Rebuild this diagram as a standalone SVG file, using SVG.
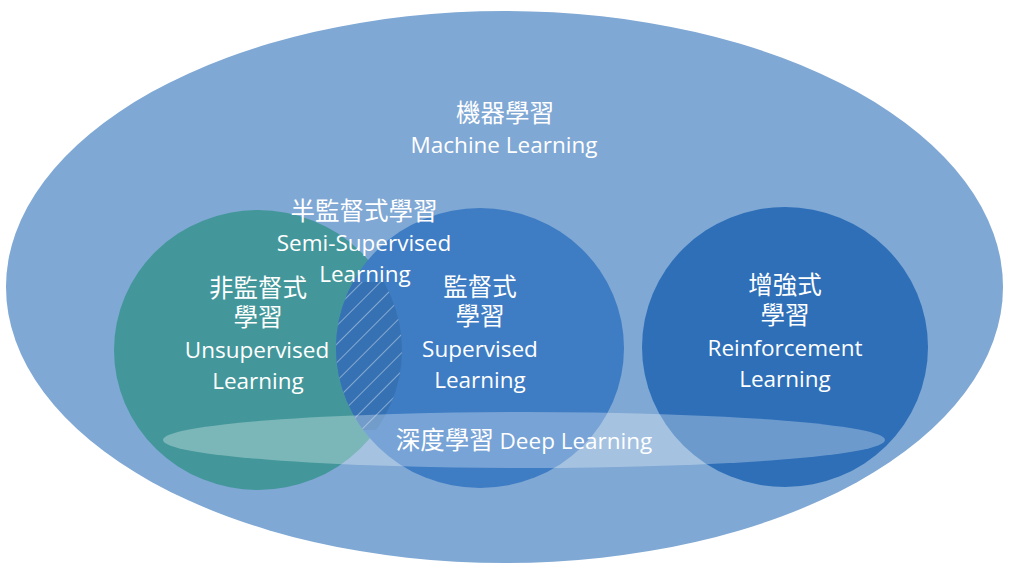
<svg xmlns="http://www.w3.org/2000/svg" width="1024" height="574" viewBox="0 0 1024 574">
  <style>
    .t { fill: #ffffff; font-family: "Open Sans", "Noto Sans CJK TC", "Noto Sans", sans-serif; text-anchor: middle; }
    .en { font-size: 22.5px; font-weight: 500; }
    .zh { font-size: 24.5px; font-family: "Noto Sans CJK TC", "Open Sans", sans-serif; font-weight: 400; }
  </style>
  <defs>
    <pattern id="hatch" patternUnits="userSpaceOnUse" width="13" height="13" patternTransform="rotate(45)">
      <rect x="0" y="0" width="13" height="13" fill="#3571b3"/>
      <line x1="0" y1="0" x2="0" y2="13" stroke="#ffffff" stroke-opacity="0.8" stroke-width="1"/>
    </pattern>
    <clipPath id="clipGreen">
      <ellipse cx="258" cy="350" rx="144" ry="140"/>
    </clipPath>
    <clipPath id="clipBlue">
      <ellipse cx="480" cy="348" rx="144" ry="140"/>
    </clipPath>
  </defs>

  <rect x="0" y="0" width="1024" height="574" fill="#ffffff"/>

  <g id="machine-learning">
    <ellipse cx="504.5" cy="287" rx="498.5" ry="276" fill="#7fa8d4"/>
    <text class="t zh" x="505" y="122">機器學習</text>
    <text class="t en" x="504" y="153">Machine Learning</text>
  </g>

  <g id="unsupervised">
    <ellipse cx="258" cy="350" rx="144" ry="140" fill="#43979a"/>
  </g>

  <g id="supervised">
    <ellipse cx="480" cy="348" rx="144" ry="140" fill="#3e7cc4"/>
  </g>

  <g id="semi-supervised">
    <g clip-path="url(#clipBlue)">
      <rect x="320" y="282" width="100" height="148" fill="url(#hatch)" clip-path="url(#clipGreen)"/>
    </g>
  </g>

  <g id="reinforcement">
    <ellipse cx="785" cy="347" rx="143" ry="140" fill="#2e6fb8"/>
  </g>

  <g id="deep-learning">
    <ellipse cx="524" cy="440" rx="361" ry="28" fill="#ffffff" fill-opacity="0.3"/>
    <text class="t en" x="524" y="449"><tspan style="font-family:'Noto Sans CJK TC','Open Sans',sans-serif;font-size:24.5px;font-weight:400">深度學習</tspan> Deep Learning</text>
  </g>

  <g id="labels">
    <text class="t zh" x="364" y="220">半監督式學習</text>
    <text class="t en" x="364" y="251">Semi-Supervised</text>
    <text class="t en" x="365" y="282">Learning</text>

    <text class="t zh" x="258" y="297">非監督式</text>
    <text class="t zh" x="258" y="326">學習</text>
    <text class="t en" x="257" y="358">Unsupervised</text>
    <text class="t en" x="258" y="389">Learning</text>

    <text class="t zh" x="480" y="296">監督式</text>
    <text class="t zh" x="480" y="325">學習</text>
    <text class="t en" x="480" y="357">Supervised</text>
    <text class="t en" x="480" y="388">Learning</text>

    <text class="t zh" x="785" y="294">增強式</text>
    <text class="t zh" x="785" y="324">學習</text>
    <text class="t en" x="785" y="356">Reinforcement</text>
    <text class="t en" x="785" y="387">Learning</text>
  </g>
</svg>
